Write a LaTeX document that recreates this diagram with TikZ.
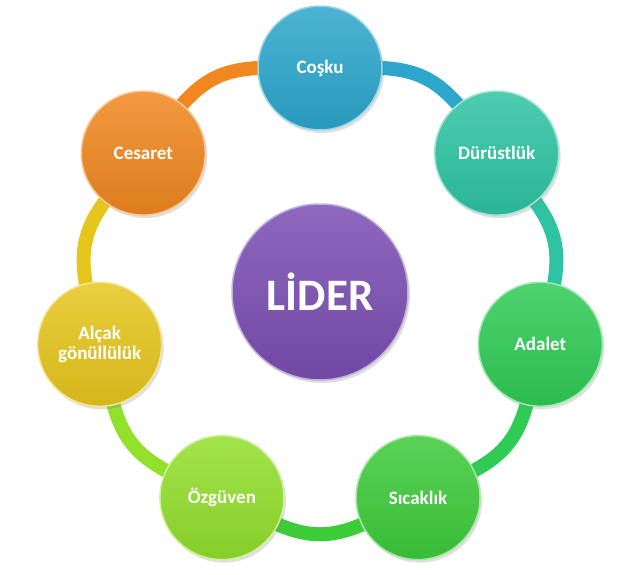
\documentclass[tikz,border=0pt]{standalone}
\usepackage{fontspec}
\setmainfont{Carlito}
\usetikzlibrary{shadows}
\usetikzlibrary{backgrounds}
\definecolor{lider}{HTML}{7A4EB2}
\definecolor{cosku}{HTML}{2CA6CC}
\definecolor{durust}{HTML}{2EC4A2}
\definecolor{adalet}{HTML}{2FCB55}
\definecolor{sicak}{HTML}{3DCB3A}
\definecolor{ozguv}{HTML}{92DF2C}
\definecolor{alcak}{HTML}{E6C61C}
\definecolor{cesar}{HTML}{F0871F}

\begin{document}
\begin{tikzpicture}[x=1pt,y=1pt,
					bubble/.style={circle,minimum size=124pt,inner sep=0pt,align=center,
						top color=#1!85!white,bottom color=#1!92!black,
						draw=#1!45!white,line width=1.5pt,
						drop shadow={opacity=.25,shadow xshift=2pt,shadow yshift=-3pt},
						text=white,font=\bfseries\fontsize{19}{20}\selectfont},
					ring/.style={draw=#1,line width=14pt,shorten <=-14pt,shorten >=-14pt}]
					\useasboundingbox (-320,-280) rectangle (320,294);
					
					\node[bubble=lider,minimum size=176pt,
						font=\bfseries\fontsize{45}{48}\selectfont] (L) at (0,2) {LİDER};
					\node[bubble=cosku]  (C)  at (90:226)      {Coşku};
					\node[bubble=durust] (D)  at (38.57:226)   {Dürüstlük};
					\node[bubble=adalet] (A)  at (-12.86:226)  {Adalet};
					\node[bubble=sicak]  (S)  at (-64.29:226)  {Sıcaklık};
					\node[bubble=ozguv]  (O)  at (-115.71:226) {Özgüven};
					\node[bubble=alcak]  (G)  at (192.86:226)  {Alçak\\gönüllülük};
					\node[bubble=cesar]  (E)  at (141.43:226)  {Cesaret};
					
					\begin{scope}[on background layer,bend left=26]
					\path
					(C) edge [ring=cosku]  (D)
					(D) edge [ring=durust] (A)
					(A) edge [ring=adalet] (S)
					(S) edge [ring=sicak]  (O)
					(O) edge [ring=ozguv]  (G)
					(G) edge [ring=alcak]  (E)
					(E) edge [ring=cesar]  (C);
					\end{scope}
					\end{tikzpicture}
\end{document}
